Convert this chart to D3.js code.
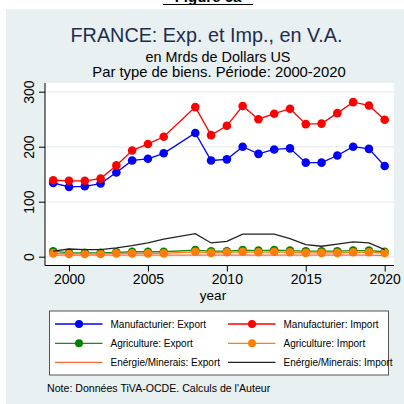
<!DOCTYPE html>
<html><head><meta charset="utf-8">
<script src="https://cdn.jsdelivr.net/npm/d3@7"></script>
<style>body{margin:0;background:#fff}svg{display:block;font-family:"Liberation Sans",Arial,sans-serif}</style>
</head><body><svg id="c" width="404" height="404"></svg>
<script>
const years = [1999,2000,2001,2002,2003,2004,2005,2006,2008,2009,2010,2011,2012,2013,2014,2015,2016,2017,2018,2019,2020];
const manufExport = [134,127,128,133,153,175,178,188,225,175,177,200,187,195,197,171,171,184,200,196,165];
const manufImport = [139,138,138,142,166,193,205,218,272,221,238,274,250,260,269,241,242,261,281,275,249];
const agriExport  = [10,7,7,7,8,9,9,9,12,10,10,12,11,12,11,10,10,10,11,11,9];
const agriImport  = [6,5,5,5,6,6,6,6,9,7,8,9,8,9,8,7,7,7,8,8,7];
const energyExport= [3,3,3,3,3,3,3,3,3,3,3,3,3,3,3,3,3,3,3,3,2];
const energyImport= [10,14,13,13,16,20,25,32,42,25,28,41,41,41,33,22,19,23,27,25,13];
const xTicks = [2000,2005,2010,2015,2020];
const yTicks = [0,100,200,300];
const legendNames = ["Manufacturier: Export","Manufacturier: Import","Agriculture: Export","Agriculture: Import","Enérgie/Minerais: Export","Enérgie/Minerais: Import"];

const series = [
  {name:legendNames[0], values:manufExport, color:"#0000ff", marker:true},
  {name:legendNames[1], values:manufImport, color:"#ff0000", marker:true},
  {name:legendNames[2], values:agriExport, color:"#1a8a1a", mcolor:"#008000", marker:true},
  {name:legendNames[3], values:agriImport, color:"#ff8000", marker:true},
  {name:legendNames[4], values:energyExport, color:"#ff6a3d", marker:false},
  {name:legendNames[5], values:energyImport, color:"#222222", marker:false}
];

const svg = d3.select("#c");
// top caption (cut off in the original screenshot)
svg.append("text").attr("x",208).attr("y",2).attr("text-anchor","middle")
  .attr("font-size",15).attr("font-weight","bold").attr("fill","#000").text("Figure 6a");
svg.append("line").attr("x1",163).attr("x2",253).attr("y1",4.5).attr("y2",4.5).attr("stroke","#000").attr("stroke-width",1.2);

// panel
svg.append("rect").attr("x",6).attr("y",9).attr("width",398).attr("height",395).attr("fill","#e8f0f2");

// titles
svg.append("text").attr("x",206.5).attr("y",41.5).attr("text-anchor","middle").attr("font-size",19.8).attr("fill","#1e2c4e").text("FRANCE: Exp. et Imp., en V.A.");
svg.append("text").attr("x",218).attr("y",62).attr("text-anchor","middle").attr("font-size",14.4).attr("fill","#000").text("en Mrds de Dollars US");
svg.append("text").attr("x",219).attr("y",76.5).attr("text-anchor","middle").attr("font-size",14.8).attr("fill","#000").text("Par type de biens. Période: 2000-2020");

const plot = {l:45, t:83, r:394, b:265.5};
const x = d3.scaleLinear().domain([2000,2020]).range([69,384.7]);
const y = d3.scaleLinear().domain([0,300]).range([256.7,91.7]);

svg.append("rect").attr("x",plot.l).attr("y",plot.t).attr("width",plot.r-plot.l).attr("height",plot.b-plot.t).attr("fill","#fff");
// gridlines
svg.append("g").selectAll("line").data(yTicks).join("line")
  .attr("x1",plot.l).attr("x2",plot.r).attr("y1",d=>y(d)).attr("y2",d=>y(d))
  .attr("stroke","#eaf2f3").attr("stroke-width",1.5);

// axes
const yAxis = svg.append("g").attr("transform",`translate(${plot.l},0)`)
  .call(d3.axisLeft(y).tickValues(yTicks).tickSize(6).tickPadding(4));
yAxis.select(".domain").attr("d",`M0,${plot.t}V${plot.b}`).attr("stroke","#000");
yAxis.selectAll(".tick line").attr("stroke","#000");
yAxis.selectAll(".tick text").attr("font-size",14).attr("font-family","Liberation Sans, Arial, sans-serif")
  .attr("fill","#000").attr("text-anchor","middle").attr("dy",0)
  .attr("transform","translate(-11,0) rotate(-90)")
  .attr("x",0).attr("y",0);
const xAxis = svg.append("g").attr("transform",`translate(0,${plot.b})`)
  .call(d3.axisBottom(x).tickValues(xTicks).tickFormat(d3.format("d")).tickSize(6).tickPadding(3));
xAxis.select(".domain").attr("d",`M${plot.l},0H${plot.r}`).attr("stroke","#000");
xAxis.selectAll(".tick line").attr("stroke","#000");
xAxis.selectAll(".tick text").attr("font-size",14).attr("font-family","Liberation Sans, Arial, sans-serif").attr("fill","#000");
svg.append("text").attr("x",213).attr("y",300).attr("text-anchor","middle").attr("font-size",13.5).attr("fill","#000").text("year");

// series
const line = d3.line().x((d,i)=>x(years[i])).y(d=>y(d));
series.forEach(s=>{
  svg.append("path").attr("d",line(s.values)).attr("fill","none").attr("stroke",s.color).attr("stroke-width",1.3);
  if(s.marker){
    svg.append("g").selectAll("circle").data(s.values).join("circle")
      .attr("cx",(d,i)=>x(years[i])).attr("cy",d=>y(d)).attr("r",4.3)
      .attr("fill",s.mcolor||s.color);
  }
});

// legend
const lg = svg.append("g");
lg.append("rect").attr("x",49.5).attr("y",311).attr("width",339).attr("height",64).attr("fill","#fff").attr("stroke","#555").attr("stroke-width",1);
const colX = [55,228];
const rowY = [324,343.3,362.3];
series.forEach((s,i)=>{
  const cx = colX[i%2], cy = rowY[Math.floor(i/2)];
  lg.append("line").attr("x1",cx).attr("x2",cx+47.5).attr("y1",cy).attr("y2",cy).attr("stroke",s.color).attr("stroke-width",1.3);
  if(s.marker) lg.append("circle").attr("cx",cx+24).attr("cy",cy).attr("r",4).attr("fill",s.mcolor||s.color);
  lg.append("text").attr("x",cx+55.5).attr("y",cy+3.6).attr("font-size",10).attr("fill","#000").text(s.name);
});
svg.append("text").attr("x",47).attr("y",391.5).attr("font-size",10.6).attr("fill","#000").text("Note: Données TiVA-OCDE. Calculs de l'Auteur");
</script></body></html>
